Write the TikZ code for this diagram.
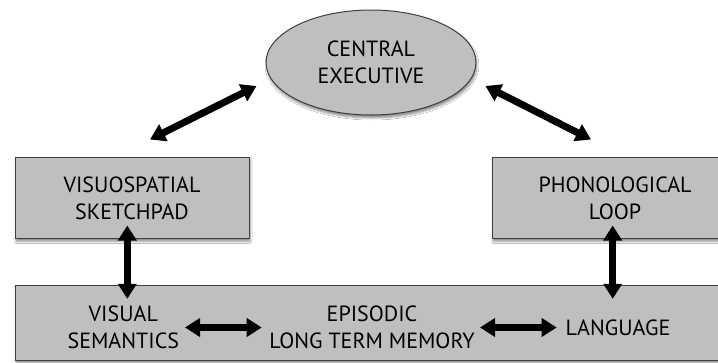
\documentclass[tikz,border=0pt]{standalone}
\usepackage{fontspec}
\setmainfont{PT Sans}
\usetikzlibrary{arrows.meta,shapes.geometric,shadows.blur}
\begin{document}
\begin{tikzpicture}[x=1pt,y=-1pt,
    box/.style={draw=black!75,line width=1pt,fill=black!25,
      blur shadow={shadow xshift=1pt,shadow yshift=-3pt,shadow blur steps=8,shadow opacity=45}},
    rbox/.style={box,rectangle,inner sep=0pt},
    ebox/.style={box,ellipse,inner sep=0pt,minimum width=210pt,minimum height=105pt},
    lbl/.style={align=center,font=\fontsize{22}{27}\selectfont,text=black},
    dbl/.style={line width=7pt,{Triangle[length=15pt,width=18pt]}-{Triangle[length=15pt,width=18pt]}}]
  \useasboundingbox (0,0) rectangle (718,362);
  \fill[white] (0,0) rectangle (718,362);
  \node[ebox,lbl] (ce) at (371,62.5) {CENTRAL\\EXECUTIVE};
  \node[rbox,lbl,minimum width=234pt,minimum height=81pt] (vs) at (132,197.8) {VISUOSPATIAL\\SKETCHPAD};
  \node[rbox,lbl,minimum width=246pt,minimum height=81pt] (pl) at (615,197.8) {PHONOLOGICAL\\LOOP};
  \node[rbox,minimum width=730pt,minimum height=75pt] (ltm) at (380,322.5) {};
  \node[lbl] (vsem) at (123.3,327.5) {VISUAL\\SEMANTICS};
  \node[lbl] (epi) at (372,327.5) {EPISODIC\\LONG TERM MEMORY};
  \node[lbl] (lang) at (618,327.5) {LANGUAGE};
  \draw[dbl] ([shift={(18,-17.3)}]vs.north) -- ([shift={(-9,23.5)}]ce.west);
  \draw[dbl] ([shift={(9,23.5)}]ce.east) -- ([shift={(-24,-17.3)}]pl.north);
  \draw[dbl] ([shift={(-4.7,-13.3)}]vs.south) -- ([shift={(-4.7,60)}]vs.south);
  \draw[dbl] ([shift={(-2.3,-13.3)}]pl.south) -- ([shift={(-2.3,60)}]pl.south);
  \draw[dbl] ([xshift=185pt]vsem.center -| 0,0) -- ([xshift=261.7pt]vsem.center -| 0,0);
  \draw[dbl] ([xshift=480pt]lang.center -| 0,0) -- ([xshift=556.7pt]lang.center -| 0,0);
\end{tikzpicture}
\end{document}
